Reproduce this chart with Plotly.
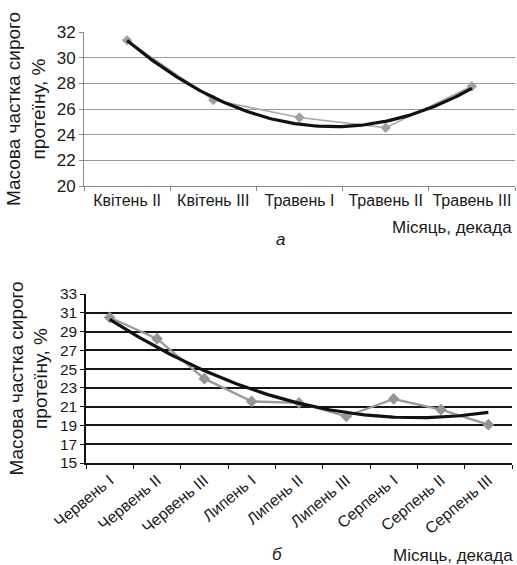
import numpy as np
import plotly.graph_objects as go

# ---- data (a) ----
cats_a = ["Квітень II", "Квітень III", "Травень I", "Травень II", "Травень III"]
vals_a = [31.35, 26.7, 25.34, 24.54, 27.77]
yticks_a = [20, 22, 24, 26, 28, 30, 32]

# ---- data (б) ----
cats_b = ["Червень I", "Червень II", "Червень III", "Липень I", "Липень II",
          "Липень III", "Серпень I", "Серпень II", "Серпень III"]
vals_b = [30.5, 28.24, 23.98, 21.56, 21.4, 19.97, 21.82, 20.68, 19.08]
yticks_b = [15, 17, 19, 21, 23, 25, 27, 29, 31, 33]

y_title = "Масова частка сирого<br>протеїну, %"
x_title = "Місяць, декада"

FONT = "Liberation Sans, Arial, sans-serif"
TXT = "#1a1a1a"


def trend(vals):
    # second-order polynomial trendline (as in the spreadsheet source)
    x = np.arange(len(vals))
    coef = np.polyfit(x, vals, 2)
    xs = np.linspace(0, len(vals) - 1, 120)
    return xs, np.polyval(coef, xs)


fig = go.Figure()

# chart a
fig.add_trace(go.Scatter(x=cats_a, y=vals_a, mode="lines+markers", xaxis="x", yaxis="y",
                         line=dict(color="#a6a6a6", width=1.6),
                         marker=dict(symbol="diamond", size=8, color="#a0a0a0"),
                         showlegend=False))
tx, ty = trend(vals_a)
fig.add_trace(go.Scatter(x=tx, y=ty, mode="lines", xaxis="x3", yaxis="y",
                         line=dict(color="#111111", width=3.2), showlegend=False))

# chart б
fig.add_trace(go.Scatter(x=cats_b, y=vals_b, mode="lines+markers", xaxis="x2", yaxis="y2",
                         line=dict(color="#9a9a9a", width=2.4),
                         marker=dict(symbol="diamond", size=9, color="#959595"),
                         showlegend=False))
tx, ty = trend(vals_b)
fig.add_trace(go.Scatter(x=tx, y=ty, mode="lines", xaxis="x4", yaxis="y2",
                         line=dict(color="#111111", width=3.2), showlegend=False))

xa_dom = [84 / 517, 515 / 517]
xb_dom = [86 / 517, 512 / 517]

fig.update_layout(
    width=517, height=565,
    margin=dict(l=0, r=0, t=0, b=0, autoexpand=False),
    paper_bgcolor="white", plot_bgcolor="white",
    font=dict(family=FONT, color=TXT),
    xaxis=dict(domain=xa_dom, anchor="y", type="category", range=[-0.5, len(cats_a) - 0.5],
               tickson="boundaries", ticks="outside", ticklen=4, tickcolor="#888",
               showline=True, linecolor="#888", linewidth=1, showgrid=False,
               tickangle=0, automargin=False,
               tickfont=dict(size=16, color=TXT)),
    xaxis3=dict(domain=xa_dom, anchor="y", overlaying="x", range=[-0.5, len(cats_a) - 0.5],
                visible=False),
    yaxis=dict(domain=[379 / 565, 533 / 565], anchor="x", range=[20, 32],
               tickvals=yticks_a, ticks="outside", ticklen=4, tickcolor="#888",
               showline=True, linecolor="#888", linewidth=1, automargin=False,
               showgrid=True, gridcolor="#9a9a9a", gridwidth=1, zeroline=False,
               tickfont=dict(size=17, color=TXT),
               title=dict(text=y_title, font=dict(size=19, color=TXT), standoff=6)),
    xaxis2=dict(domain=xb_dom, anchor="y2", type="category", range=[-0.5, len(cats_b) - 0.5],
                tickson="boundaries", ticks="outside", ticklen=4, tickcolor="#111",
                showline=True, linecolor="#111", linewidth=1.5, showgrid=False,
                tickangle=-40, automargin=False, tickfont=dict(size=16, color=TXT)),
    xaxis4=dict(domain=xb_dom, anchor="y2", overlaying="x2", range=[-0.5, len(cats_b) - 0.5],
                visible=False),
    yaxis2=dict(domain=[102 / 565, 271 / 565], anchor="x2", range=[15, 33],
                tickvals=yticks_b, ticks="outside", ticklen=4, tickcolor="#111",
                showline=True, linecolor="#111", linewidth=1.5, automargin=False,
                showgrid=True, gridcolor="#151515", gridwidth=1.6, zeroline=False,
                tickfont=dict(size=15.5, color=TXT),
                title=dict(text=y_title, font=dict(size=19, color=TXT), standoff=7)),
    annotations=[
        dict(text=x_title, xref="paper", yref="paper", x=514 / 517, y=1 - 227 / 565,
             xanchor="right", yanchor="middle", showarrow=False,
             font=dict(size=17, color=TXT)),
        dict(text="<i>а</i>", xref="paper", yref="paper", x=280 / 517, y=1 - 239 / 565,
             xanchor="center", yanchor="middle", showarrow=False,
             font=dict(size=17, color=TXT)),
        dict(text=x_title, xref="paper", yref="paper", x=515 / 517, y=1 - 555 / 565,
             xanchor="right", yanchor="middle", showarrow=False,
             font=dict(size=17, color=TXT)),
        dict(text="<i>б</i>", xref="paper", yref="paper", x=277 / 517, y=1 - 554 / 565,
             xanchor="center", yanchor="middle", showarrow=False,
             font=dict(size=17, color=TXT)),
    ],
)

fig.write_html("out.html", config={"displayModeBar": False},
               post_script="document.body.style.margin='0';document.body.style.overflow='hidden';")
